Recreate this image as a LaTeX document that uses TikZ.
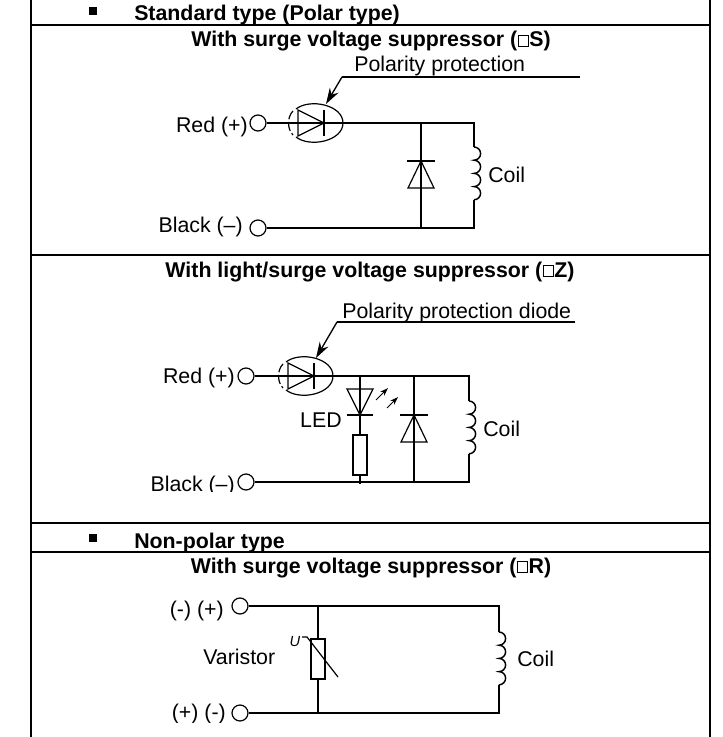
\documentclass[tikz,border=0pt]{standalone}
\usepackage{fontspec}
\setmainfont{Liberation Sans}
\usepackage{tikz}
\usetikzlibrary{arrows.meta}
\tikzset{
  wire/.style={line width=1.1pt},
  rule/.style={line width=1.5pt},
  label/.style={inner sep=0pt, font=\fontsize{16}{18}\selectfont},
  heading/.style={inner sep=0pt, font=\fontsize{16}{18}\selectfont\bfseries},
  terminal/.style={circle, draw, fill=white, line width=0.9pt, minimum size=12pt, inner sep=0pt},
  resistor/.style={draw, fill=white, line width=1pt, minimum width=10.5pt, minimum height=30pt, inner sep=0pt},
  sym/.style={line width=0.9pt},
  pointer/.style={line width=1pt, -{Stealth[length=12pt,width=7.5pt]}},
  lightray/.style={line width=0.7pt, -{Stealth[length=6pt,width=4pt]}},
}
\newcommand{\hollowbox}{\kern0.6pt\tikz[baseline=-0.2pt]\draw[line width=0.7pt] (0,0) rectangle (7.2pt,8.8pt);\kern0.6pt}
% x, top y
\newcommand{\coilshape}[2]{
  \draw[wire] (#1,#2) arc[start angle=-90, end angle=90, radius=6.6]
    arc[start angle=-90, end angle=90, radius=6.6]
    arc[start angle=-90, end angle=90, radius=6.6]
    arc[start angle=-90, end angle=90, radius=6.6];
}
% x, bar y, half width
\newcommand{\diodeup}[3]{
  \draw[wire] (#1-#3-1,#2) -- (#1+#3+1,#2);
  \draw[sym] (#1,#2) -- (#1-#3,#2+27) -- (#1+#3,#2+27) -- cycle;
}
% x of bar, y of wire
\newcommand{\protectdiode}[2]{
  \draw[sym] (#1-26,#2-13) -- (#1-26,#2+13) -- (#1,#2) -- cycle;
  \draw[sym] (#1,#2-13) -- (#1,#2+13);
  \draw[sym] (#1-28,#2-14) .. controls (#1-14,#2-25) and (#1+19,#2-18) .. (#1+19,#2)
    .. controls (#1+19,#2+18) and (#1-14,#2+25) .. (#1-28,#2+14);
  \draw[sym, dash pattern=on 7pt off 2pt] (#1-31,#2-12) .. controls (#1-37,#2-6) and (#1-37,#2+6) .. (#1-31,#2+12);
}
\begin{document}
\begin{tikzpicture}[x=0.75pt, y=-0.75pt, >=stealth]
  \useasboundingbox (0,0) rectangle (722,737);
  \fill[white] (0,0) rectangle (722,737);

  % Table rules
  \draw[rule] (31,0) -- (31,737);
  \draw[rule] (710,0) -- (710,737);
  \foreach \ruley in {25,255,522.5,552}
    \draw[rule] (31,\ruley) -- (710,\ruley);

  % Section headings
  \fill (88.5,7.5) rectangle (96.5,15);
  \fill (88.5,534) rectangle (96.5,541.5);
  \node[heading, anchor=base west] (polar) at (134,21) {Standard type (Polar type)};
  \node[heading, anchor=base west] (nonpolar) at (134,548) {Non-polar type};
  \node[heading, anchor=base] (headS) at (371,47) {With surge voltage suppressor (\hollowbox S)};
  \node[heading, anchor=base] (headZ) at (370,277) {With light/surge voltage suppressor (\hollowbox Z)};
  \node[heading, anchor=base] (headR) at (371,573) {With surge voltage suppressor (\hollowbox R)};

  % Surge suppressor circuit
  \coordinate (topS) at (474,123);
  \coordinate (coilinS) at (474,147);
  \coordinate (coiloutS) at (474,199.8);
  \coordinate (botS) at (474,228);
  \node[terminal] (redS) at (258,123) {};
  \node[terminal] (blackS) at (258,228) {};
  \node[label, anchor=base east] (redlabS) at (248,133) {Red (+)};
  \node[label, anchor=base east] (blacklabS) at (243,233) {Black (–)};
  \node[label, anchor=base west] (protS) at (354,72) {Polarity protection};
  \node[label, anchor=base west] (coilS) at (488,183) {Coil};
  \draw[wire] (redS) -- (topS) -- (coilinS);
  \coilshape{474}{147}
  \draw[wire] (coiloutS) -- (botS) -- (blackS);
  \draw[wire] (421,123) -- (421,228);
  \diodeup{421}{161}{13}
  \protectdiode{324}{123}
  \coordinate (leaderS) at (342,77);
  \coordinate (tipS) at (326,104);
  \draw[wire] (580,77) -- (leaderS);
  \draw[pointer] (leaderS) -- (tipS);

  % Light and surge suppressor circuit
  \coordinate (topZ) at (469,376);
  \coordinate (coilinZ) at (469,401);
  \coordinate (coiloutZ) at (469,453.8);
  \coordinate (botZ) at (469,482);
  \node[terminal] (redZ) at (246,376) {};
  \node[terminal] (blackZ) at (246,482) {};
  \node[label, anchor=base east] (redlabZ) at (235,383) {Red (+)};
  \begin{scope}
    \clip (140,470) rectangle (240,491.5);
    \node[label, anchor=base east] (blacklabZ) at (235,491) {Black (–)};
  \end{scope}
  \node[label, anchor=base west] (protZ) at (342,318) {Polarity protection diode};
  \node[label, anchor=base west] (coilZ) at (483,436) {Coil};
  \node[label, anchor=base east] (ledlab) at (342,427) {LED};
  \draw[wire] (redZ) -- (topZ) -- (coilinZ);
  \coilshape{469}{401}
  \draw[wire] (coiloutZ) -- (botZ) -- (blackZ);
  \draw[wire] (414,376) -- (414,482);
  \diodeup{414}{415}{13}
  \node[resistor] (resZ) at (360,455) {};
  \draw[wire] (360,376) -- (resZ.north);
  \draw[wire] (resZ.south) -- (360,484);
  \draw[wire] (347,415) -- (373,415);
  \draw[sym] (360,415) -- (347,389) -- (373,389) -- cycle;
  \draw[lightray] (376,400) -- (388,388);
  \draw[lightray] (387,408) -- (398,397);
  \protectdiode{314}{376}
  \coordinate (leaderZ) at (337,322);
  \coordinate (tipZ) at (316,358);
  \draw[wire] (575,322) -- (leaderZ);
  \draw[pointer] (leaderZ) -- (tipZ);

  % Varistor circuit
  \coordinate (topR) at (499,606);
  \coordinate (coilinR) at (499,632);
  \coordinate (coiloutR) at (499,684.8);
  \coordinate (botR) at (499,713);
  \node[terminal] (plusR) at (240,606) {};
  \node[terminal] (minusR) at (240,713) {};
  \node[label, anchor=base east] (pluslabR) at (224,616) {(-) (+)};
  \begin{scope}
    \clip (160,700) rectangle (232,722);
    \node[label, anchor=base east] (minuslabR) at (226,719) {(+) (-)};
  \end{scope}
  \node[label, anchor=base west] (varlab) at (203,664) {Varistor};
  \node[label, anchor=base west] (coilR) at (517,666) {Coil};
  \draw[wire] (plusR) -- (topR) -- (coilinR);
  \coilshape{499}{632}
  \draw[wire] (coiloutR) -- (botR) -- (minusR);
  \node[resistor] (resR) at (318,659) {};
  \draw[wire] (318,606) -- (resR.north);
  \draw[wire] (resR.south) -- (318,713);
  \draw[sym] (302,637) -- (307,637) -- (338,677);
  \node[inner sep=0pt, font=\fontsize{11}{12}\selectfont\itshape] (ulab) at (295,642) {U};
\end{tikzpicture}
\end{document}
